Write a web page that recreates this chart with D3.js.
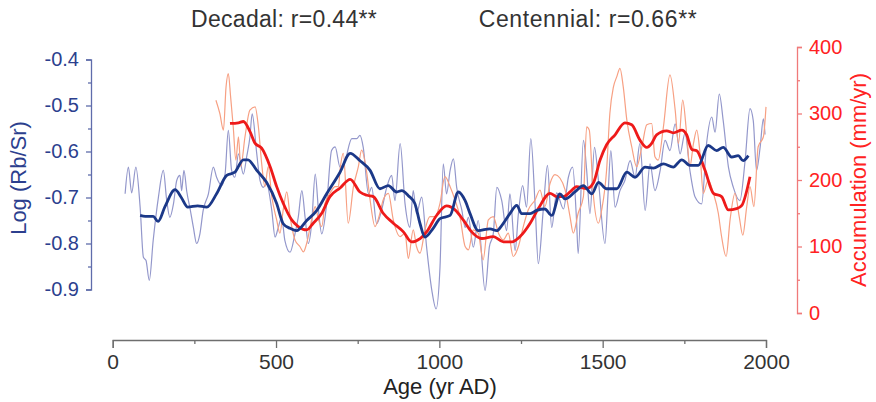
<!DOCTYPE html>
<html>
<head>
<meta charset="utf-8">
<script src="https://cdn.jsdelivr.net/npm/d3@7"></script>
<style>
  html, body { margin: 0; padding: 0; background: #fff; }
  svg { display: block; font-family: "Liberation Sans", Arial, sans-serif; }
</style>
</head>
<body>
<svg id="chart" width="876" height="402"></svg>
<script>
// ---- Log(Rb/Sr), decadal resolution ----
const rbsrDecYear = [38,48,58,71,84,94,102,112,124,140,155,165,175,186,196,206,211,218,227,237,247,257,267,277,293,308,318,334,344,354,364,374,385,400,410,420,427,441,451,461,471,487,497,507,517,527,543,558,568,579,589,599,609,620,630,640,655,670,681,696,711,732,747,757,767,783,793,808,823,839,854,864,880,895,910,920,930,946,961,977,990,1002,1012,1022,1033,1043,1053,1069,1079,1089,1104,1119,1140,1153,1165,1176,1191,1206,1216,1232,1242,1255,1267,1280,1293,1303,1318,1331,1344,1359,1380,1395,1408,1420,1425,1441,1451,1461,1475,1487,1507,1517,1525,1538,1553,1568,1584,1599,1614,1630,1645,1660,1676,1691,1706,1722,1737,1752,1767,1783,1803,1818,1834,1844,1857,1869,1885,1900,1920,1936,1951,1961,1971,1982,1992,1997];
const rbsrDec = [-0.692,-0.634,-0.690,-0.634,-0.721,-0.830,-0.837,-0.880,-0.793,-0.699,-0.641,-0.704,-0.743,-0.714,-0.663,-0.652,-0.685,-0.641,-0.688,-0.725,-0.765,-0.800,-0.779,-0.728,-0.692,-0.634,-0.656,-0.674,-0.649,-0.554,-0.641,-0.656,-0.605,-0.649,-0.612,-0.569,-0.518,-0.605,-0.663,-0.678,-0.670,-0.728,-0.786,-0.765,-0.743,-0.793,-0.819,-0.779,-0.743,-0.685,-0.743,-0.800,-0.757,-0.649,-0.728,-0.779,-0.714,-0.598,-0.590,-0.634,-0.620,-0.572,-0.572,-0.565,-0.591,-0.692,-0.678,-0.757,-0.728,-0.678,-0.652,-0.707,-0.583,-0.714,-0.765,-0.685,-0.735,-0.699,-0.808,-0.902,-0.942,-0.851,-0.627,-0.692,-0.641,-0.616,-0.678,-0.728,-0.765,-0.743,-0.808,-0.750,-0.902,-0.808,-0.779,-0.678,-0.707,-0.772,-0.692,-0.815,-0.735,-0.674,-0.721,-0.572,-0.714,-0.844,-0.728,-0.630,-0.765,-0.690,-0.725,-0.656,-0.634,-0.750,-0.822,-0.576,-0.641,-0.735,-0.591,-0.663,-0.800,-0.685,-0.598,-0.721,-0.685,-0.663,-0.620,-0.656,-0.583,-0.728,-0.627,-0.685,-0.641,-0.576,-0.598,-0.540,-0.605,-0.560,-0.641,-0.699,-0.714,-0.583,-0.525,-0.558,-0.475,-0.533,-0.634,-0.678,-0.707,-0.620,-0.507,-0.533,-0.641,-0.591,-0.529,-0.563];

// ---- Log(Rb/Sr), centennial smoothing ----
const rbsrCenYear = [84,100,124,139,160,191,210,230,260,288,318,349,374,400,414,441,471,502,522,543,563,594,625,655,696,727,757,788,818,844,869,885,905,925,941,956,981,1002,1033,1058,1079,1094,1119,1155,1176,1191,1216,1237,1252,1278,1298,1323,1344,1369,1385,1415,1441,1467,1487,1512,1543,1574,1599,1630,1655,1686,1716,1742,1767,1793,1823,1849,1869,1895,1915,1930,1946];
const rbsrCen = [-0.739,-0.741,-0.741,-0.752,-0.720,-0.683,-0.700,-0.721,-0.718,-0.721,-0.692,-0.652,-0.645,-0.618,-0.618,-0.641,-0.667,-0.713,-0.757,-0.767,-0.772,-0.750,-0.728,-0.692,-0.645,-0.604,-0.620,-0.641,-0.681,-0.674,-0.688,-0.685,-0.696,-0.713,-0.757,-0.786,-0.767,-0.746,-0.739,-0.688,-0.707,-0.735,-0.772,-0.768,-0.772,-0.761,-0.735,-0.717,-0.735,-0.735,-0.728,-0.725,-0.739,-0.692,-0.703,-0.688,-0.674,-0.692,-0.667,-0.681,-0.681,-0.645,-0.656,-0.634,-0.636,-0.627,-0.634,-0.618,-0.630,-0.630,-0.587,-0.598,-0.591,-0.612,-0.609,-0.620,-0.609];

// ---- Accumulation (mm/yr), decadal resolution ----
const accDecYear = [316,328,339,347,354,361,369,377,385,392,405,420,436,446,456,466,476,487,502,512,522,533,543,558,573,584,594,609,620,630,640,650,665,681,691,696,706,721,737,752,762,778,788,803,818,828,844,859,880,895,905,920,930,941,956,971,987,1002,1017,1033,1048,1063,1079,1089,1104,1119,1134,1150,1165,1181,1196,1211,1226,1242,1257,1272,1293,1308,1323,1339,1354,1369,1385,1400,1410,1425,1441,1451,1459,1471,1487,1497,1512,1522,1533,1543,1553,1563,1574,1589,1604,1620,1635,1650,1660,1670,1686,1706,1722,1732,1745,1757,1767,1778,1788,1798,1808,1823,1839,1854,1864,1878,1890,1905,1918,1929,1941,1951,1963,1976,1992,2000];
const accDec = [320,300,275,340,360,325,280,230,265,220,265,305,310,280,225,190,220,175,140,120,155,182,145,110,100,92,105,140,160,140,130,165,180,190,190,215,240,135,190,220,245,210,170,130,150,170,180,140,115,120,82,125,100,90,125,145,145,165,205,190,170,145,100,95,125,120,80,140,145,120,110,120,85,100,130,155,170,185,160,195,208,203,185,145,120,150,175,280,275,180,135,155,215,300,340,355,368,340,290,250,220,250,283,285,235,230,280,358,305,255,320,270,220,255,275,240,180,200,180,150,115,85,140,180,145,117,160,190,160,250,265,310];

// ---- Accumulation (mm/yr), centennial smoothing ----
const accCenYear = [359,385,400,420,436,456,482,502,522,548,568,594,614,640,665,696,727,757,778,798,828,859,890,915,941,961,992,1022,1048,1073,1099,1130,1165,1196,1222,1247,1278,1303,1339,1359,1380,1400,1420,1451,1471,1492,1512,1538,1568,1589,1614,1635,1650,1665,1696,1716,1742,1757,1773,1788,1813,1839,1864,1885,1910,1926,1951];
const accCen = [285,286,288,273,255,248,220,190,165,140,130,125,135,150,175,188,201,182,177,175,150,135,122,107,112,122,147,161,155,140,122,112,115,107,107,115,135,157,180,175,175,182,190,187,195,230,253,268,286,283,260,249,255,268,274,271,275,268,246,244,215,180,175,155,157,162,205];

// ---- Axis ticks and labels ----
const ageTicks = [0, 500, 1000, 1500, 2000];
const ageMinorTicks = [250, 750, 1250, 1750];
const rbsrTicks = [-0.9, -0.8, -0.7, -0.6, -0.5, -0.4];
const rbsrMinorTicks = [-0.85, -0.75, -0.65, -0.55, -0.45];
const accTicks = [0, 100, 200, 300, 400];
const accMinorTicks = [50, 150, 250, 350];
const titleDecadal = "Decadal: r=0.44**";
const titleCentennial = "Centennial: r=0.66**";

const svg = d3.select("#chart");

const x = d3.scaleLinear().domain([0, 2000]).range([112.7, 766]);
const yL = d3.scaleLinear().domain([-0.9, -0.4]).range([289.5, 59.5]);
const yR = d3.scaleLinear().domain([0, 400]).range([313, 47]);

const navy = "#2c3f8e";
const red = "#ff2222";

// Lines
const curve = d3.curveMonotoneX;
const lineL = d3.line().x(d => x(d[0])).y(d => yL(d[1])).curve(curve);
const lineR = d3.line().x(d => x(d[0])).y(d => yR(d[1])).curve(curve);
const zip = (a, b) => a.map((v, i) => [v, b[i]]);

const plot = svg.append("g");
plot.append("path").datum(zip(rbsrDecYear, rbsrDec))
  .attr("d", lineL).attr("fill", "none")
  .attr("stroke", "#9397cb").attr("stroke-width", 1.2);
plot.append("path").datum(zip(accDecYear, accDec))
  .attr("d", lineR).attr("fill", "none")
  .attr("stroke", "#f7a083").attr("stroke-width", 1.2);
plot.append("path").datum(zip(accCenYear, accCen))
  .attr("d", lineR).attr("fill", "none")
  .attr("stroke", "#ee1a1a").attr("stroke-width", 2.8)
  .attr("stroke-linejoin", "round");
plot.append("path").datum(zip(rbsrCenYear, rbsrCen))
  .attr("d", lineL).attr("fill", "none")
  .attr("stroke", "#1b3888").attr("stroke-width", 2.8)
  .attr("stroke-linejoin", "round");

// Bottom axis
const gx = svg.append("g").attr("transform", "translate(0,340)");
gx.call(d3.axisBottom(x).tickValues(ageTicks).tickSize(8).tickSizeOuter(8).tickPadding(6).tickFormat(d3.format("d")));
gx.append("g").call(d3.axisBottom(x).tickValues(ageMinorTicks).tickSize(4).tickFormat(""))
  .select(".domain").remove();
gx.selectAll("path, line").attr("stroke", "#6e6e6e").attr("stroke-width", 1.3);
gx.selectAll("text").attr("fill", "#333").attr("font-size", 21).attr("font-family", "Liberation Sans, Arial, sans-serif");

// Left axis
const gl = svg.append("g").attr("transform", "translate(91,0)");
gl.call(d3.axisLeft(yL).tickValues(rbsrTicks).tickSize(5).tickSizeOuter(5).tickPadding(7).tickFormat(d => d.toFixed(1)));
gl.append("g").call(d3.axisLeft(yL).tickValues(rbsrMinorTicks).tickSize(3).tickFormat(""))
  .select(".domain").remove();
gl.selectAll("path, line").attr("stroke", "#5f6cab").attr("stroke-width", 1.3);
gl.selectAll("text").attr("fill", navy).attr("font-size", 20).attr("font-family", "Liberation Sans, Arial, sans-serif");

// Right axis
const gr = svg.append("g").attr("transform", "translate(797,0)");
gr.call(d3.axisRight(yR).tickValues(accTicks).tickSize(5).tickSizeOuter(5).tickPadding(7).tickFormat(d3.format("d")));
gr.append("g").call(d3.axisRight(yR).tickValues(accMinorTicks).tickSize(3).tickFormat(""))
  .select(".domain").remove();
gr.selectAll("path, line").attr("stroke", "#f07a7a").attr("stroke-width", 1.3);
gr.selectAll("text").attr("fill", red).attr("font-size", 20).attr("font-family", "Liberation Sans, Arial, sans-serif");

// Axis titles
svg.append("text").attr("x", 440).attr("y", 394).attr("text-anchor", "middle")
  .attr("font-size", 22).attr("fill", "#222").text("Age (yr AD)");
svg.append("text").attr("transform", "translate(26,178) rotate(-90)").attr("text-anchor", "middle")
  .attr("font-size", 22).attr("fill", navy).text("Log (Rb/Sr)");
svg.append("text").attr("transform", "translate(866,180) rotate(-90)").attr("text-anchor", "middle")
  .attr("font-size", 22).attr("fill", red).text("Accumulation (mm/yr)");

// Correlation headers
svg.append("text").attr("x", 284).attr("y", 27).attr("text-anchor", "middle")
  .attr("font-size", 23).attr("letter-spacing", 0.3).attr("fill", "#333").text(titleDecadal);
svg.append("text").attr("x", 588).attr("y", 27).attr("text-anchor", "middle")
  .attr("font-size", 23).attr("letter-spacing", 0.6).attr("fill", "#333").text(titleCentennial);
</script>
</body>
</html>
